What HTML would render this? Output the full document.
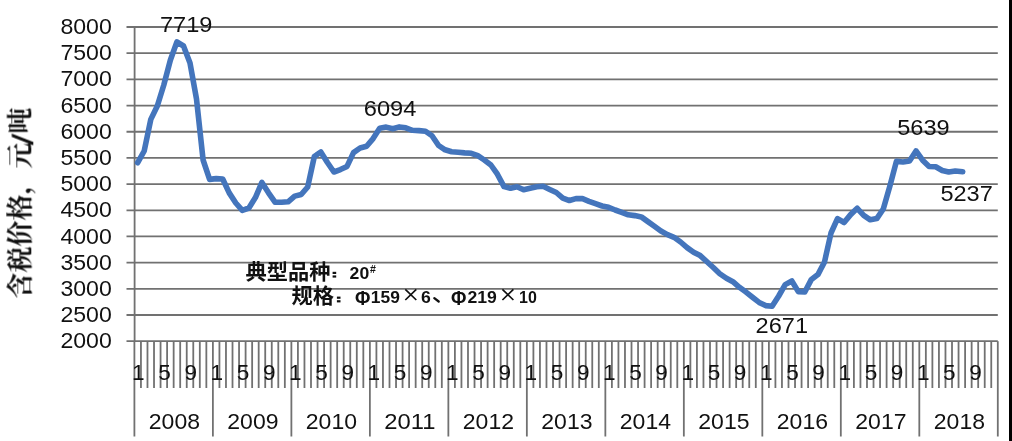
<!DOCTYPE html>
<html lang="zh"><head><meta charset="utf-8"><title>Chart</title>
<style>html,body{margin:0;padding:0;background:#fff}svg{display:block}text{white-space:pre}</style>
</head><body>
<svg width="1012" height="441" viewBox="0 0 1012 441">
<rect x="0" y="0" width="1012" height="441" fill="#fff"/>
<g opacity="0.999">
<g stroke="#717171" stroke-width="1.8" fill="none">
<line x1="126.5" y1="27.00" x2="997.8" y2="27.00"/>
<line x1="126.5" y1="53.18" x2="997.8" y2="53.18"/>
<line x1="126.5" y1="79.37" x2="997.8" y2="79.37"/>
<line x1="126.5" y1="105.55" x2="997.8" y2="105.55"/>
<line x1="126.5" y1="131.73" x2="997.8" y2="131.73"/>
<line x1="126.5" y1="157.92" x2="997.8" y2="157.92"/>
<line x1="126.5" y1="184.10" x2="997.8" y2="184.10"/>
<line x1="126.5" y1="210.28" x2="997.8" y2="210.28"/>
<line x1="126.5" y1="236.47" x2="997.8" y2="236.47"/>
<line x1="126.5" y1="262.65" x2="997.8" y2="262.65"/>
<line x1="126.5" y1="288.83" x2="997.8" y2="288.83"/>
<line x1="126.5" y1="315.02" x2="997.8" y2="315.02"/>
<line x1="126.5" y1="341.20" x2="997.8" y2="341.20"/>
<line x1="134.6" y1="27.0" x2="134.6" y2="341.2"/>
<line x1="134.40" y1="341.2" x2="134.40" y2="436.5"/>
<line x1="140.94" y1="341.2" x2="140.94" y2="388.0"/>
<line x1="147.48" y1="341.2" x2="147.48" y2="388.0"/>
<line x1="154.02" y1="341.2" x2="154.02" y2="388.0"/>
<line x1="160.56" y1="341.2" x2="160.56" y2="388.0"/>
<line x1="167.10" y1="341.2" x2="167.10" y2="388.0"/>
<line x1="173.65" y1="341.2" x2="173.65" y2="388.0"/>
<line x1="180.19" y1="341.2" x2="180.19" y2="388.0"/>
<line x1="186.73" y1="341.2" x2="186.73" y2="388.0"/>
<line x1="193.27" y1="341.2" x2="193.27" y2="388.0"/>
<line x1="199.81" y1="341.2" x2="199.81" y2="388.0"/>
<line x1="206.35" y1="341.2" x2="206.35" y2="388.0"/>
<line x1="212.89" y1="341.2" x2="212.89" y2="436.5"/>
<line x1="219.43" y1="341.2" x2="219.43" y2="388.0"/>
<line x1="225.97" y1="341.2" x2="225.97" y2="388.0"/>
<line x1="232.51" y1="341.2" x2="232.51" y2="388.0"/>
<line x1="239.05" y1="341.2" x2="239.05" y2="388.0"/>
<line x1="245.60" y1="341.2" x2="245.60" y2="388.0"/>
<line x1="252.14" y1="341.2" x2="252.14" y2="388.0"/>
<line x1="258.68" y1="341.2" x2="258.68" y2="388.0"/>
<line x1="265.22" y1="341.2" x2="265.22" y2="388.0"/>
<line x1="271.76" y1="341.2" x2="271.76" y2="388.0"/>
<line x1="278.30" y1="341.2" x2="278.30" y2="388.0"/>
<line x1="284.84" y1="341.2" x2="284.84" y2="388.0"/>
<line x1="291.38" y1="341.2" x2="291.38" y2="436.5"/>
<line x1="297.92" y1="341.2" x2="297.92" y2="388.0"/>
<line x1="304.46" y1="341.2" x2="304.46" y2="388.0"/>
<line x1="311.00" y1="341.2" x2="311.00" y2="388.0"/>
<line x1="317.55" y1="341.2" x2="317.55" y2="388.0"/>
<line x1="324.09" y1="341.2" x2="324.09" y2="388.0"/>
<line x1="330.63" y1="341.2" x2="330.63" y2="388.0"/>
<line x1="337.17" y1="341.2" x2="337.17" y2="388.0"/>
<line x1="343.71" y1="341.2" x2="343.71" y2="388.0"/>
<line x1="350.25" y1="341.2" x2="350.25" y2="388.0"/>
<line x1="356.79" y1="341.2" x2="356.79" y2="388.0"/>
<line x1="363.33" y1="341.2" x2="363.33" y2="388.0"/>
<line x1="369.87" y1="341.2" x2="369.87" y2="436.5"/>
<line x1="376.41" y1="341.2" x2="376.41" y2="388.0"/>
<line x1="382.95" y1="341.2" x2="382.95" y2="388.0"/>
<line x1="389.50" y1="341.2" x2="389.50" y2="388.0"/>
<line x1="396.04" y1="341.2" x2="396.04" y2="388.0"/>
<line x1="402.58" y1="341.2" x2="402.58" y2="388.0"/>
<line x1="409.12" y1="341.2" x2="409.12" y2="388.0"/>
<line x1="415.66" y1="341.2" x2="415.66" y2="388.0"/>
<line x1="422.20" y1="341.2" x2="422.20" y2="388.0"/>
<line x1="428.74" y1="341.2" x2="428.74" y2="388.0"/>
<line x1="435.28" y1="341.2" x2="435.28" y2="388.0"/>
<line x1="441.82" y1="341.2" x2="441.82" y2="388.0"/>
<line x1="448.36" y1="341.2" x2="448.36" y2="436.5"/>
<line x1="454.90" y1="341.2" x2="454.90" y2="388.0"/>
<line x1="461.45" y1="341.2" x2="461.45" y2="388.0"/>
<line x1="467.99" y1="341.2" x2="467.99" y2="388.0"/>
<line x1="474.53" y1="341.2" x2="474.53" y2="388.0"/>
<line x1="481.07" y1="341.2" x2="481.07" y2="388.0"/>
<line x1="487.61" y1="341.2" x2="487.61" y2="388.0"/>
<line x1="494.15" y1="341.2" x2="494.15" y2="388.0"/>
<line x1="500.69" y1="341.2" x2="500.69" y2="388.0"/>
<line x1="507.23" y1="341.2" x2="507.23" y2="388.0"/>
<line x1="513.77" y1="341.2" x2="513.77" y2="388.0"/>
<line x1="520.31" y1="341.2" x2="520.31" y2="388.0"/>
<line x1="526.85" y1="341.2" x2="526.85" y2="436.5"/>
<line x1="533.40" y1="341.2" x2="533.40" y2="388.0"/>
<line x1="539.94" y1="341.2" x2="539.94" y2="388.0"/>
<line x1="546.48" y1="341.2" x2="546.48" y2="388.0"/>
<line x1="553.02" y1="341.2" x2="553.02" y2="388.0"/>
<line x1="559.56" y1="341.2" x2="559.56" y2="388.0"/>
<line x1="566.10" y1="341.2" x2="566.10" y2="388.0"/>
<line x1="572.64" y1="341.2" x2="572.64" y2="388.0"/>
<line x1="579.18" y1="341.2" x2="579.18" y2="388.0"/>
<line x1="585.72" y1="341.2" x2="585.72" y2="388.0"/>
<line x1="592.26" y1="341.2" x2="592.26" y2="388.0"/>
<line x1="598.80" y1="341.2" x2="598.80" y2="388.0"/>
<line x1="605.35" y1="341.2" x2="605.35" y2="436.5"/>
<line x1="611.89" y1="341.2" x2="611.89" y2="388.0"/>
<line x1="618.43" y1="341.2" x2="618.43" y2="388.0"/>
<line x1="624.97" y1="341.2" x2="624.97" y2="388.0"/>
<line x1="631.51" y1="341.2" x2="631.51" y2="388.0"/>
<line x1="638.05" y1="341.2" x2="638.05" y2="388.0"/>
<line x1="644.59" y1="341.2" x2="644.59" y2="388.0"/>
<line x1="651.13" y1="341.2" x2="651.13" y2="388.0"/>
<line x1="657.67" y1="341.2" x2="657.67" y2="388.0"/>
<line x1="664.21" y1="341.2" x2="664.21" y2="388.0"/>
<line x1="670.75" y1="341.2" x2="670.75" y2="388.0"/>
<line x1="677.30" y1="341.2" x2="677.30" y2="388.0"/>
<line x1="683.84" y1="341.2" x2="683.84" y2="436.5"/>
<line x1="690.38" y1="341.2" x2="690.38" y2="388.0"/>
<line x1="696.92" y1="341.2" x2="696.92" y2="388.0"/>
<line x1="703.46" y1="341.2" x2="703.46" y2="388.0"/>
<line x1="710.00" y1="341.2" x2="710.00" y2="388.0"/>
<line x1="716.54" y1="341.2" x2="716.54" y2="388.0"/>
<line x1="723.08" y1="341.2" x2="723.08" y2="388.0"/>
<line x1="729.62" y1="341.2" x2="729.62" y2="388.0"/>
<line x1="736.16" y1="341.2" x2="736.16" y2="388.0"/>
<line x1="742.70" y1="341.2" x2="742.70" y2="388.0"/>
<line x1="749.25" y1="341.2" x2="749.25" y2="388.0"/>
<line x1="755.79" y1="341.2" x2="755.79" y2="388.0"/>
<line x1="762.33" y1="341.2" x2="762.33" y2="436.5"/>
<line x1="768.87" y1="341.2" x2="768.87" y2="388.0"/>
<line x1="775.41" y1="341.2" x2="775.41" y2="388.0"/>
<line x1="781.95" y1="341.2" x2="781.95" y2="388.0"/>
<line x1="788.49" y1="341.2" x2="788.49" y2="388.0"/>
<line x1="795.03" y1="341.2" x2="795.03" y2="388.0"/>
<line x1="801.57" y1="341.2" x2="801.57" y2="388.0"/>
<line x1="808.11" y1="341.2" x2="808.11" y2="388.0"/>
<line x1="814.65" y1="341.2" x2="814.65" y2="388.0"/>
<line x1="821.20" y1="341.2" x2="821.20" y2="388.0"/>
<line x1="827.74" y1="341.2" x2="827.74" y2="388.0"/>
<line x1="834.28" y1="341.2" x2="834.28" y2="388.0"/>
<line x1="840.82" y1="341.2" x2="840.82" y2="436.5"/>
<line x1="847.36" y1="341.2" x2="847.36" y2="388.0"/>
<line x1="853.90" y1="341.2" x2="853.90" y2="388.0"/>
<line x1="860.44" y1="341.2" x2="860.44" y2="388.0"/>
<line x1="866.98" y1="341.2" x2="866.98" y2="388.0"/>
<line x1="873.52" y1="341.2" x2="873.52" y2="388.0"/>
<line x1="880.06" y1="341.2" x2="880.06" y2="388.0"/>
<line x1="886.60" y1="341.2" x2="886.60" y2="388.0"/>
<line x1="893.15" y1="341.2" x2="893.15" y2="388.0"/>
<line x1="899.69" y1="341.2" x2="899.69" y2="388.0"/>
<line x1="906.23" y1="341.2" x2="906.23" y2="388.0"/>
<line x1="912.77" y1="341.2" x2="912.77" y2="388.0"/>
<line x1="919.31" y1="341.2" x2="919.31" y2="436.5"/>
<line x1="925.85" y1="341.2" x2="925.85" y2="388.0"/>
<line x1="932.39" y1="341.2" x2="932.39" y2="388.0"/>
<line x1="938.93" y1="341.2" x2="938.93" y2="388.0"/>
<line x1="945.47" y1="341.2" x2="945.47" y2="388.0"/>
<line x1="952.01" y1="341.2" x2="952.01" y2="388.0"/>
<line x1="958.55" y1="341.2" x2="958.55" y2="388.0"/>
<line x1="965.10" y1="341.2" x2="965.10" y2="388.0"/>
<line x1="971.64" y1="341.2" x2="971.64" y2="388.0"/>
<line x1="978.18" y1="341.2" x2="978.18" y2="388.0"/>
<line x1="984.72" y1="341.2" x2="984.72" y2="388.0"/>
<line x1="991.26" y1="341.2" x2="991.26" y2="388.0"/>
<line x1="997.80" y1="341.2" x2="997.80" y2="436.5"/>
</g>
<polyline points="137.7,162.7 144.2,151.0 150.8,119.4 157.3,106.0 163.8,85.0 170.4,60.0 176.9,41.9 183.5,46.0 190.0,63.0 196.5,99.0 203.1,160.0 209.6,179.4 216.2,178.6 222.7,179.0 229.2,192.9 235.8,203.0 242.3,210.3 248.9,208.0 255.4,197.6 261.9,182.4 268.5,192.8 275.0,202.2 281.6,202.3 288.1,201.8 294.7,196.1 301.2,194.5 307.7,187.0 314.3,156.6 320.8,151.9 327.4,162.5 333.9,172.0 340.4,169.6 347.0,166.4 353.5,152.6 360.1,148.0 366.6,146.2 373.1,138.6 379.7,128.3 386.2,127.1 392.8,128.7 399.3,126.9 405.8,127.8 412.4,130.3 418.9,130.6 425.5,131.3 432.0,135.7 438.6,145.5 445.1,149.8 451.6,151.7 458.2,152.2 464.7,152.9 471.3,153.3 477.8,155.7 484.3,160.0 490.9,165.0 497.4,174.2 504.0,186.6 510.5,188.3 517.0,186.7 523.6,189.8 530.1,188.3 536.7,186.7 543.2,186.2 549.7,189.4 556.3,192.5 562.8,198.1 569.4,200.5 575.9,198.6 582.5,198.6 589.0,201.3 595.5,203.7 602.1,206.0 608.6,207.3 615.2,210.0 621.7,212.4 628.2,214.8 634.8,215.6 641.3,216.9 647.9,221.6 654.4,226.2 660.9,231.0 667.5,234.6 674.0,237.3 680.6,242.0 687.1,247.6 693.6,252.2 700.2,255.6 706.7,261.5 713.3,267.5 719.8,273.8 726.4,278.3 732.9,281.7 739.4,287.3 746.0,292.1 752.5,297.3 759.1,302.4 765.6,305.6 772.1,306.2 778.7,296.0 785.2,284.6 791.8,281.0 798.3,291.6 804.8,292.0 811.4,279.4 817.9,274.6 824.5,262.0 831.0,233.0 837.5,218.6 844.1,222.5 850.6,214.6 857.2,208.3 863.7,215.4 870.3,219.8 876.8,218.6 883.3,209.0 889.9,186.0 896.4,161.4 903.0,162.0 909.5,161.0 916.0,150.9 922.6,160.2 929.1,166.5 935.7,166.8 942.2,170.5 948.7,172.0 955.3,171.0 962.7,171.7" fill="none" stroke="#4475bc" stroke-width="5.6" stroke-linejoin="round" stroke-linecap="round"/>
<g font-family="'Liberation Sans', sans-serif" fill="#111">
<text x="60.4" y="34.0" font-size="21.8" font-weight="normal" text-anchor="start" textLength="51.4" lengthAdjust="spacingAndGlyphs">8000</text>
<text x="60.4" y="60.2" font-size="21.8" font-weight="normal" text-anchor="start" textLength="51.4" lengthAdjust="spacingAndGlyphs">7500</text>
<text x="60.4" y="86.4" font-size="21.8" font-weight="normal" text-anchor="start" textLength="51.4" lengthAdjust="spacingAndGlyphs">7000</text>
<text x="60.4" y="112.5" font-size="21.8" font-weight="normal" text-anchor="start" textLength="51.4" lengthAdjust="spacingAndGlyphs">6500</text>
<text x="60.4" y="138.7" font-size="21.8" font-weight="normal" text-anchor="start" textLength="51.4" lengthAdjust="spacingAndGlyphs">6000</text>
<text x="60.4" y="164.9" font-size="21.8" font-weight="normal" text-anchor="start" textLength="51.4" lengthAdjust="spacingAndGlyphs">5500</text>
<text x="60.4" y="191.1" font-size="21.8" font-weight="normal" text-anchor="start" textLength="51.4" lengthAdjust="spacingAndGlyphs">5000</text>
<text x="60.4" y="217.3" font-size="21.8" font-weight="normal" text-anchor="start" textLength="51.4" lengthAdjust="spacingAndGlyphs">4500</text>
<text x="60.4" y="243.5" font-size="21.8" font-weight="normal" text-anchor="start" textLength="51.4" lengthAdjust="spacingAndGlyphs">4000</text>
<text x="60.4" y="269.6" font-size="21.8" font-weight="normal" text-anchor="start" textLength="51.4" lengthAdjust="spacingAndGlyphs">3500</text>
<text x="60.4" y="295.8" font-size="21.8" font-weight="normal" text-anchor="start" textLength="51.4" lengthAdjust="spacingAndGlyphs">3000</text>
<text x="60.4" y="322.0" font-size="21.8" font-weight="normal" text-anchor="start" textLength="51.4" lengthAdjust="spacingAndGlyphs">2500</text>
<text x="60.4" y="348.2" font-size="21.8" font-weight="normal" text-anchor="start" textLength="51.4" lengthAdjust="spacingAndGlyphs">2000</text>
<text x="160.0" y="31.6" font-size="21.8" font-weight="normal" text-anchor="start" textLength="52.4" lengthAdjust="spacingAndGlyphs">7719</text>
<text x="363.8" y="115.9" font-size="21.8" font-weight="normal" text-anchor="start" textLength="52.6" lengthAdjust="spacingAndGlyphs">6094</text>
<text x="897.2" y="134.7" font-size="21.8" font-weight="normal" text-anchor="start" textLength="52.4" lengthAdjust="spacingAndGlyphs">5639</text>
<text x="940.4" y="200.7" font-size="21.8" font-weight="normal" text-anchor="start" textLength="52.4" lengthAdjust="spacingAndGlyphs">5237</text>
<text x="755.6" y="333.4" font-size="21.8" font-weight="normal" text-anchor="start" textLength="52.4" lengthAdjust="spacingAndGlyphs">2671</text>
<text x="132.1" y="380.2" font-size="21.8" font-weight="normal" text-anchor="start" textLength="12.6" lengthAdjust="spacingAndGlyphs">1</text>
<text x="158.2" y="380.2" font-size="21.8" font-weight="normal" text-anchor="start" textLength="12.6" lengthAdjust="spacingAndGlyphs">5</text>
<text x="184.4" y="380.2" font-size="21.8" font-weight="normal" text-anchor="start" textLength="12.6" lengthAdjust="spacingAndGlyphs">9</text>
<text x="148.8" y="428.6" font-size="21.8" font-weight="normal" text-anchor="start" textLength="51.2" lengthAdjust="spacingAndGlyphs">2008</text>
<text x="210.6" y="380.2" font-size="21.8" font-weight="normal" text-anchor="start" textLength="12.6" lengthAdjust="spacingAndGlyphs">1</text>
<text x="236.7" y="380.2" font-size="21.8" font-weight="normal" text-anchor="start" textLength="12.6" lengthAdjust="spacingAndGlyphs">5</text>
<text x="262.9" y="380.2" font-size="21.8" font-weight="normal" text-anchor="start" textLength="12.6" lengthAdjust="spacingAndGlyphs">9</text>
<text x="227.3" y="428.6" font-size="21.8" font-weight="normal" text-anchor="start" textLength="51.2" lengthAdjust="spacingAndGlyphs">2009</text>
<text x="289.1" y="380.2" font-size="21.8" font-weight="normal" text-anchor="start" textLength="12.6" lengthAdjust="spacingAndGlyphs">1</text>
<text x="315.2" y="380.2" font-size="21.8" font-weight="normal" text-anchor="start" textLength="12.6" lengthAdjust="spacingAndGlyphs">5</text>
<text x="341.4" y="380.2" font-size="21.8" font-weight="normal" text-anchor="start" textLength="12.6" lengthAdjust="spacingAndGlyphs">9</text>
<text x="305.8" y="428.6" font-size="21.8" font-weight="normal" text-anchor="start" textLength="51.2" lengthAdjust="spacingAndGlyphs">2010</text>
<text x="367.5" y="380.2" font-size="21.8" font-weight="normal" text-anchor="start" textLength="12.6" lengthAdjust="spacingAndGlyphs">1</text>
<text x="393.7" y="380.2" font-size="21.8" font-weight="normal" text-anchor="start" textLength="12.6" lengthAdjust="spacingAndGlyphs">5</text>
<text x="419.9" y="380.2" font-size="21.8" font-weight="normal" text-anchor="start" textLength="12.6" lengthAdjust="spacingAndGlyphs">9</text>
<text x="384.3" y="428.6" font-size="21.8" font-weight="normal" text-anchor="start" textLength="51.2" lengthAdjust="spacingAndGlyphs">2011</text>
<text x="446.0" y="380.2" font-size="21.8" font-weight="normal" text-anchor="start" textLength="12.6" lengthAdjust="spacingAndGlyphs">1</text>
<text x="472.2" y="380.2" font-size="21.8" font-weight="normal" text-anchor="start" textLength="12.6" lengthAdjust="spacingAndGlyphs">5</text>
<text x="498.4" y="380.2" font-size="21.8" font-weight="normal" text-anchor="start" textLength="12.6" lengthAdjust="spacingAndGlyphs">9</text>
<text x="462.8" y="428.6" font-size="21.8" font-weight="normal" text-anchor="start" textLength="51.2" lengthAdjust="spacingAndGlyphs">2012</text>
<text x="524.5" y="380.2" font-size="21.8" font-weight="normal" text-anchor="start" textLength="12.6" lengthAdjust="spacingAndGlyphs">1</text>
<text x="550.7" y="380.2" font-size="21.8" font-weight="normal" text-anchor="start" textLength="12.6" lengthAdjust="spacingAndGlyphs">5</text>
<text x="576.9" y="380.2" font-size="21.8" font-weight="normal" text-anchor="start" textLength="12.6" lengthAdjust="spacingAndGlyphs">9</text>
<text x="541.3" y="428.6" font-size="21.8" font-weight="normal" text-anchor="start" textLength="51.2" lengthAdjust="spacingAndGlyphs">2013</text>
<text x="603.0" y="380.2" font-size="21.8" font-weight="normal" text-anchor="start" textLength="12.6" lengthAdjust="spacingAndGlyphs">1</text>
<text x="629.2" y="380.2" font-size="21.8" font-weight="normal" text-anchor="start" textLength="12.6" lengthAdjust="spacingAndGlyphs">5</text>
<text x="655.3" y="380.2" font-size="21.8" font-weight="normal" text-anchor="start" textLength="12.6" lengthAdjust="spacingAndGlyphs">9</text>
<text x="619.8" y="428.6" font-size="21.8" font-weight="normal" text-anchor="start" textLength="51.2" lengthAdjust="spacingAndGlyphs">2014</text>
<text x="681.5" y="380.2" font-size="21.8" font-weight="normal" text-anchor="start" textLength="12.6" lengthAdjust="spacingAndGlyphs">1</text>
<text x="707.7" y="380.2" font-size="21.8" font-weight="normal" text-anchor="start" textLength="12.6" lengthAdjust="spacingAndGlyphs">5</text>
<text x="733.8" y="380.2" font-size="21.8" font-weight="normal" text-anchor="start" textLength="12.6" lengthAdjust="spacingAndGlyphs">9</text>
<text x="698.3" y="428.6" font-size="21.8" font-weight="normal" text-anchor="start" textLength="51.2" lengthAdjust="spacingAndGlyphs">2015</text>
<text x="760.0" y="380.2" font-size="21.8" font-weight="normal" text-anchor="start" textLength="12.6" lengthAdjust="spacingAndGlyphs">1</text>
<text x="786.2" y="380.2" font-size="21.8" font-weight="normal" text-anchor="start" textLength="12.6" lengthAdjust="spacingAndGlyphs">5</text>
<text x="812.3" y="380.2" font-size="21.8" font-weight="normal" text-anchor="start" textLength="12.6" lengthAdjust="spacingAndGlyphs">9</text>
<text x="776.8" y="428.6" font-size="21.8" font-weight="normal" text-anchor="start" textLength="51.2" lengthAdjust="spacingAndGlyphs">2016</text>
<text x="838.5" y="380.2" font-size="21.8" font-weight="normal" text-anchor="start" textLength="12.6" lengthAdjust="spacingAndGlyphs">1</text>
<text x="864.7" y="380.2" font-size="21.8" font-weight="normal" text-anchor="start" textLength="12.6" lengthAdjust="spacingAndGlyphs">5</text>
<text x="890.8" y="380.2" font-size="21.8" font-weight="normal" text-anchor="start" textLength="12.6" lengthAdjust="spacingAndGlyphs">9</text>
<text x="855.3" y="428.6" font-size="21.8" font-weight="normal" text-anchor="start" textLength="51.2" lengthAdjust="spacingAndGlyphs">2017</text>
<text x="917.0" y="380.2" font-size="21.8" font-weight="normal" text-anchor="start" textLength="12.6" lengthAdjust="spacingAndGlyphs">1</text>
<text x="943.1" y="380.2" font-size="21.8" font-weight="normal" text-anchor="start" textLength="12.6" lengthAdjust="spacingAndGlyphs">5</text>
<text x="969.3" y="380.2" font-size="21.8" font-weight="normal" text-anchor="start" textLength="12.6" lengthAdjust="spacingAndGlyphs">9</text>
<text x="933.8" y="428.6" font-size="21.8" font-weight="normal" text-anchor="start" textLength="51.2" lengthAdjust="spacingAndGlyphs">2018</text>
</g>
<g font-family="'Liberation Sans', 'Noto Sans CJK SC', sans-serif" fill="#111" font-weight="bold">
<text x="245.5" y="278.6" font-size="21" font-weight="bold" text-anchor="start" textLength="85" lengthAdjust="spacingAndGlyphs">典型品种</text>
<text x="291.5" y="303.4" font-size="21" font-weight="bold" text-anchor="start" textLength="42.5" lengthAdjust="spacingAndGlyphs">规格</text>
</g>
<g fill="#111"><rect x="332.6" y="271.8" width="3.6" height="2.2"/><rect x="332.6" y="275.4" width="3.6" height="2.2"/><rect x="336.9" y="296.6" width="3.6" height="2.2"/><rect x="336.9" y="300.2" width="3.6" height="2.2"/></g>
<g font-family="'Liberation Sans', sans-serif" fill="#111" font-weight="bold">
<text x="349.6" y="278.5" font-size="17.4" font-weight="bold" text-anchor="start" textLength="19.6" lengthAdjust="spacingAndGlyphs">20</text>
<text x="369.9" y="273.0" font-size="11.2" font-weight="bold" text-anchor="start" textLength="5.9" lengthAdjust="spacingAndGlyphs">#</text>
<text x="354.9" y="304.5" font-size="19.5" font-weight="bold" text-anchor="start" textLength="15.4" lengthAdjust="spacingAndGlyphs">&#934;</text>
<text x="370.8" y="303.2" font-size="16.6" font-weight="bold" text-anchor="start" textLength="29.0" lengthAdjust="spacingAndGlyphs">159</text>
<text x="421.0" y="303.4" font-size="17.4" font-weight="bold" text-anchor="start" textLength="9.8" lengthAdjust="spacingAndGlyphs">6</text>
<text x="450.9" y="304.5" font-size="19.5" font-weight="bold" text-anchor="start" textLength="15.4" lengthAdjust="spacingAndGlyphs">&#934;</text>
<text x="467.4" y="303.2" font-size="16.6" font-weight="bold" text-anchor="start" textLength="29.4" lengthAdjust="spacingAndGlyphs">219</text>
<text x="519.0" y="303.2" font-size="16.6" font-weight="bold" text-anchor="start" textLength="17.8" lengthAdjust="spacingAndGlyphs">10</text>
</g>
<g stroke="#111" stroke-width="1.7" fill="none">
<path d="M405.3 289.4 L416.3 300 M416.3 289.4 L405.3 300"/>
<path d="M502.4 289.4 L513.4 300 M513.4 289.4 L502.4 300"/>
<path d="M434.3 298.1 L438.7 301.5" stroke-width="2.3" stroke-linecap="round"/>
</g>
<g transform="translate(29.3,298.6) rotate(-90)" fill="#111">
<text x="0" y="0" font-family="'Liberation Serif', 'Noto Serif CJK SC', serif" font-size="26" font-weight="bold" text-anchor="start" textLength="156" lengthAdjust="spacingAndGlyphs">含税价格，元</text>
<text x="165" y="0" font-family="'Liberation Serif', 'Noto Serif CJK SC', serif" font-size="26" font-weight="bold" text-anchor="start">吨</text>
<path d="M153.3 4 L161.7 -17.4 L165 -17.4 L156.6 4 Z"/>
</g>
</g>
<rect x="1009" y="0" width="3" height="441" fill="#000"/>
</svg>
</body></html>
